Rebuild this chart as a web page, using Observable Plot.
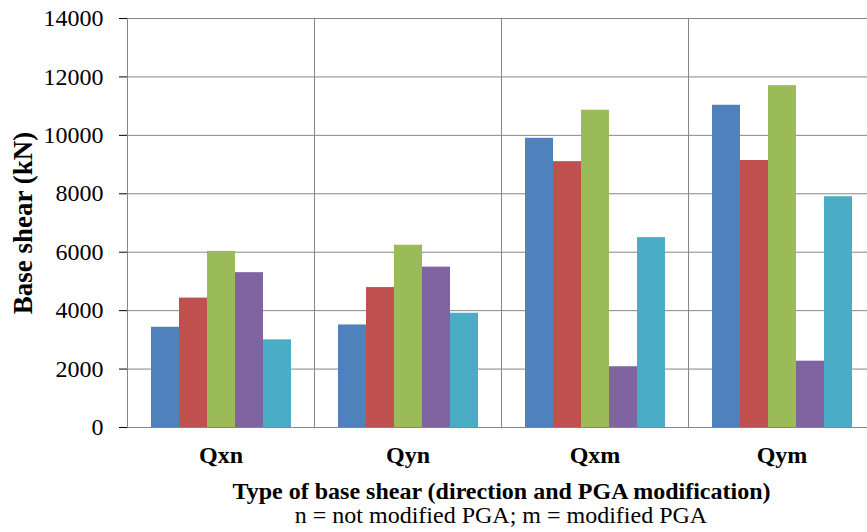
<!DOCTYPE html>
<html>
<head>
<meta charset="utf-8">
<script src="https://cdn.jsdelivr.net/npm/d3@7"></script>
<script src="https://cdn.jsdelivr.net/npm/@observablehq/plot@0.6"></script>
<style>
  body { margin: 0; background: #fff; width: 867px; height: 532px; overflow: hidden;
         font-family: "Liberation Serif", "Times New Roman", serif; }
  #chart { width: 875px; height: 505px; }
  #chart svg, #chart svg text { font-family: "Liberation Serif", "Times New Roman", serif !important; }
  #chart svg { overflow: visible; }
  #chart g[aria-label="fx-axis tick label"] text { font-weight: bold; }
  #chart g[aria-label="fx-axis label"] text { font-weight: bold; }
  #chart g[aria-label="y-axis label"] text { font-weight: bold; font-size: 27px; }
  .note { margin-top: -2px; margin-left: 127px; width: 748px; text-align: center; font-size: 24px;
          line-height: 24px; color: #000; }
</style>
</head>
<body>
<div id="chart"></div>
<div class="note">n = not modified PGA; m = modified PGA</div>
<script>
// Base shear per load case (kN), one array per analysis case
const groups = ["Qxn", "Qyn", "Qxm", "Qym"];
const series = ["Case 1", "Case 2", "Case 3", "Case 4", "Case 5"];
const colors = ["#4F81BD", "#C0504D", "#9BBB59", "#8064A2", "#4BACC6"];
const case1 = [3430, 3510, 9900, 11030];
const case2 = [4430, 4790, 9100, 9140];
const case3 = [6030, 6240, 10860, 11700];
const case4 = [5300, 5490, 2080, 2270];
const case5 = [3000, 3910, 6500, 7900];
const yTicks = [0, 2000, 4000, 6000, 8000, 10000, 12000, 14000];

const values = [case1, case2, case3, case4, case5];
const data = [];
groups.forEach((g, i) => series.forEach((s, j) => data.push({group: g, series: s, value: values[j][i]})));

const gridColor = "#868686";

const chart = Plot.plot({
  width: 875,
  height: 505,
  marginTop: 18,
  marginBottom: 78,
  marginLeft: 127,
  marginRight: 0,
  style: {fontSize: "24px", color: "#000", background: "#fff"},
  fx: {
    domain: groups, padding: 0, axis: "bottom", tickSize: 0, tickPadding: 18,
    label: "Type of base shear (direction and PGA modification)", labelAnchor: "center", labelOffset: 71
  },
  x: {domain: series, paddingInner: 0, paddingOuter: 0.75, axis: null},
  y: {
    domain: [0, 14000], ticks: yTicks, tickFormat: "d", tickSize: 8, tickPadding: 16,
    label: "Base shear (kN)", labelAnchor: "center", labelOffset: 115, labelArrow: "none"
  },
  color: {domain: series, range: colors},
  marks: [
    Plot.gridY(yTicks, {stroke: gridColor, strokeOpacity: 1}),
    Plot.frame({anchor: "left", stroke: gridColor}),
    Plot.barY(data, {fx: "group", x: "series", y: "value", fill: "series", inset: 0})
  ]
});
chart.querySelectorAll('g[aria-label="y-axis tick"]').forEach(g => g.setAttribute("stroke", gridColor));
document.getElementById("chart").append(chart);
</script>
</body>
</html>
